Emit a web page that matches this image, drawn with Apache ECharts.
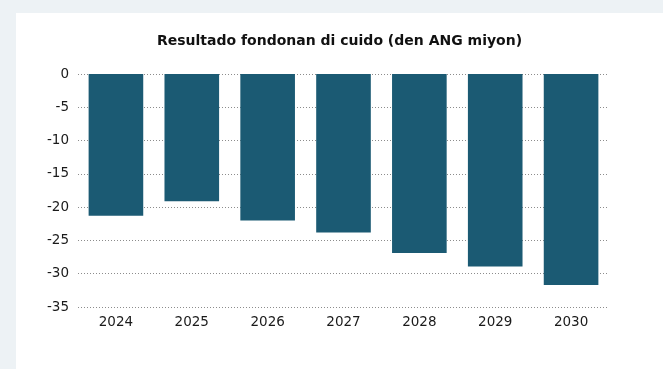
<!DOCTYPE html>
<html>
<head>
<meta charset="utf-8">
<style>
  html, body { margin: 0; padding: 0; background: #edf2f5; }
  #frame { position: absolute; left: 16px; top: 13px; right: 0; bottom: 0; background: #ffffff; }
  #chart { position: absolute; left: 0; top: 0; width: 663px; height: 369px; }
</style>
<script src="https://cdn.jsdelivr.net/npm/echarts@6/dist/echarts.min.js"></script>
</head>
<body>
<div id="frame"></div>
<div id="chart"></div>
<script>
// Fund result per year, in millions of ANG
const years = ['2024', '2025', '2026', '2027', '2028', '2029', '2030'];
const results = [-21.3, -19.1, -22.0, -23.8, -26.9, -28.9, -31.7];
const titleText = 'Resultado fondonan di cuido (den ANG miyon)';

const chart = echarts.init(document.getElementById('chart'), null, { renderer: 'canvas' });
const font = '"DejaVu Sans", sans-serif';

chart.setOption({
  backgroundColor: 'transparent',
  animation: false,
  title: {
    text: titleText,
    left: 152,
    top: 29,
    textStyle: { fontFamily: font, fontSize: 14, fontWeight: 'bold', color: '#111111' }
  },
  grid: { left: 78, right: 54, top: 74, bottom: 62, containLabel: false },
  xAxis: {
    type: 'category',
    data: years,
    position: 'bottom',
    axisLine: { show: false },
    axisTick: { show: false },
    axisLabel: { fontFamily: font, fontSize: 13.5, color: '#1a1a1a', margin: 8 }
  },
  yAxis: {
    type: 'value',
    min: -35,
    max: 0,
    interval: 5,
    axisLine: { show: false },
    axisTick: { show: false },
    axisLabel: {
      fontFamily: font, fontSize: 13.5, color: '#1a1a1a', margin: 9,
      formatter: v => String(v).replace('\u2212', '-')
    },
    splitLine: { lineStyle: { type: [1, 2], color: '#8c8c8c', width: 1 } }
  },
  series: [{
    type: 'bar',
    data: results,
    barCategoryGap: '28%',
    itemStyle: { color: '#1b5a73' }
  }]
});
</script>
</body>
</html>
